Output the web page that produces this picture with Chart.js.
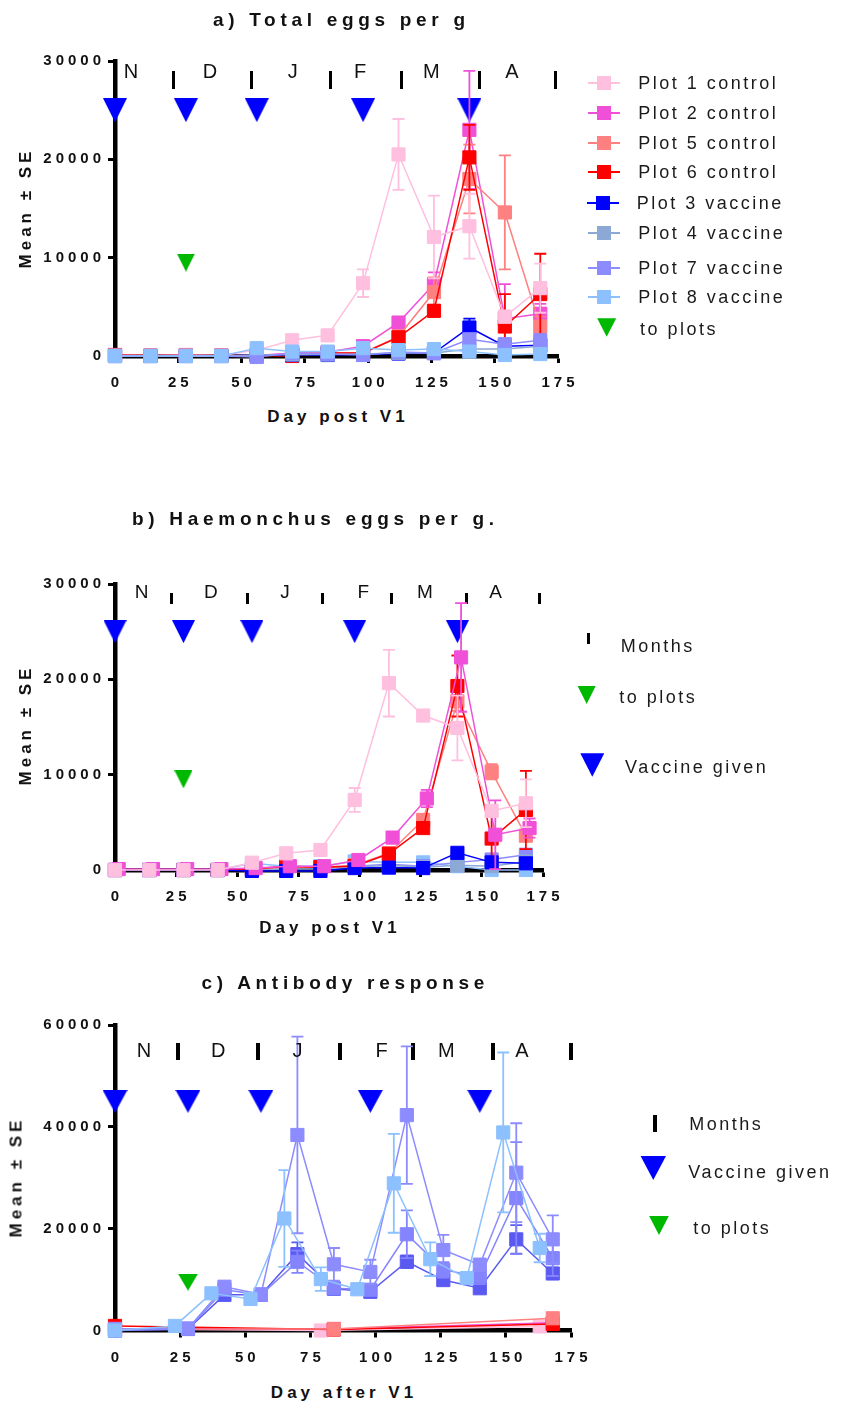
<!DOCTYPE html>
<html>
<head>
<meta charset="utf-8">
<title>Egg counts and antibody response</title>
<script src="https://cdn.jsdelivr.net/npm/chart.js@4.4.1/dist/chart.umd.min.js"></script>
<style>
  html, body { margin: 0; padding: 0; background: #fff; }
  body { width: 843px; height: 1405px; position: relative; overflow: hidden;
         font-family: "Liberation Sans", Arial, sans-serif; color: #111; }
  canvas.panel { position: absolute; left: 0; }
  .t { position: absolute; white-space: nowrap; line-height: 1; }
  .title { font-weight: bold; font-size: 19px; letter-spacing: 4.7px; padding-left: 4.7px;
           transform: translate(-50%, -50%); }
  .xt { font-weight: bold; font-size: 17px; letter-spacing: 4px; padding-left: 4px;
        transform: translate(-50%, -50%); }
  .yt { font-weight: bold; font-size: 17px; letter-spacing: 4px; padding-left: 4px;
        transform: translate(-50%, -50%) rotate(-90deg); }
  .lg { font-size: 18px; letter-spacing: 2.5px; transform: translateY(-50%); color: #1a1a1a; }
  .sw { position: absolute; }
  .tri { position: absolute; clip-path: polygon(0 0, 100% 0, 50% 100%); }
</style>
</head>
<body>

<canvas id="chartA" class="panel" width="843" height="400" style="top:0px"></canvas>
<canvas id="chartB" class="panel" width="843" height="420" style="top:500px"></canvas>
<canvas id="chartC" class="panel" width="843" height="400" style="top:980px"></canvas>

<div class="t title" style="left:339px; top:19px">a) Total eggs per g</div>
<div class="t yt" style="left:25px; top:210px">Mean ± SE</div>
<div class="t xt" style="left:336px; top:416px">Day post V1</div>

<div class="t title" style="left:313px; top:518px">b) Haemonchus eggs per g.</div>
<div class="t yt" style="left:25px; top:727px">Mean ± SE</div>
<div class="t xt" style="left:328px; top:927px">Day post V1</div>

<div class="t title" style="left:343px; top:982px">c) Antibody response</div>
<div class="t yt" style="left:16px; top:1179px">Mean ± SE</div>
<div class="t xt" style="left:342px; top:1392px">Day after V1</div>

<div id="legends"></div>

<script>
// ---------- sampling days ----------
const DAYS = [0, 14, 28, 42, 56, 70, 84, 98, 112, 126, 140, 154, 168];
const DAYS_SHIFTED = [1.5, 15.5, 29.5, 43.5, 57.5, 71.5, 85.5, 99.5, 113.5, 127.5, 141.5, 155.5, 169.5];
const ANTIBODY_DAYS = [0, 28, 42, 56, 70, 84, 98, 112, 126, 140, 154, 168];
const ANTIBODY_DAYS_P8 = [0, 23, 37, 52, 65, 79, 93, 107, 121, 135, 149, 163];
const CONTROL_AB_DAYS = [0, 84, 168];
const CONTROL_AB_DAYS_P1 = [0, 79, 163];

// ---------- a) total eggs per g ----------
const totalP1 = [50, 50, 50, 50, 600, 1600, 2100, 7400, 20500, 12100, 13200, 4000, 6900];
const totalP1se = [0, 0, 0, 0, 100, 200, 300, 1400, 3600, 4200, 3300, 600, 2500];
const totalP2 = [100, 50, 100, 50, 50, 300, 400, 1000, 3400, 7300, 23000, 3800, 4300];
const totalP2se = [0, 0, 0, 0, 0, 100, 100, 200, 500, 1200, 6000, 3500, 1000];
const totalP5 = [100, 50, 100, 50, 50, 200, 300, 300, 2000, 6500, 18000, 14600, 3000];
const totalP5se = [0, 0, 0, 0, 0, 100, 100, 100, 300, 1500, 3500, 5800, 1000];
const totalP6 = [100, 50, 50, 50, 50, 0, 300, 300, 1900, 4600, 20200, 3000, 6300];
const totalP6se = [0, 0, 0, 0, 0, 100, 100, 100, 300, 600, 3300, 3300, 4100];
const totalP3 = [0, 0, 0, 0, 100, 100, 100, 150, 250, 300, 2900, 1000, 1100];
const totalP3se = [0, 0, 0, 0, 0, 0, 0, 0, 0, 100, 900, 200, 300];
const totalP4 = [0, 0, 0, 0, 100, 150, 150, 200, 300, 300, 700, 700, 1000];
const totalP4se = [0, 0, 0, 0, 0, 0, 0, 0, 0, 0, 200, 100, 200];
const totalP7 = [0, 0, 0, 0, -100, 300, 200, 100, 400, 300, 1700, 1200, 1600];
const totalP7se = [0, 0, 0, 0, 0, 0, 0, 0, 0, 0, 300, 200, 300];
const totalP8 = [0, 0, 0, 0, 800, 450, 450, 800, 600, 700, 450, 100, 200];
const totalP8se = [0, 0, 0, 0, 100, 100, 100, 100, 100, 100, 100, 0, 0];

// ---------- b) Haemonchus eggs per g ----------
const haemP1 = [0, 0, 0, 0, 770, 1750, 2100, 7350, 19600, 16200, 14900, 6200, 7000];
const haemP1se = [0, 0, 0, 0, 100, 200, 200, 1250, 3500, 300, 3400, 500, 2500];
const haemP2 = [100, 100, 100, 100, 200, 400, 400, 1050, 3400, 7500, 22300, 3700, 4400];
const haemP2se = [0, 0, 0, 0, 0, 100, 100, 200, 400, 900, 5700, 3600, 1000];
const haemP5 = [0, 0, 0, 0, 100, 300, 300, 500, 1750, 5250, 17700, 10300, 3600];
const haemP5se = [0, 0, 0, 0, 0, 100, 100, 100, 300, 500, 1000, 800, 300];
const haemP6 = [0, 0, 0, 0, 100, 400, 300, 400, 1700, 4400, 19300, 3300, 6300];
const haemP6se = [0, 0, 0, 0, 0, 100, 100, 100, 200, 400, 3200, 3100, 4100];
const haemP3 = [0, 0, 0, 0, -100, -100, -100, 200, 250, 200, 1800, 800, 700];
const haemP3se = [0, 0, 0, 0, 0, 0, 0, 0, 0, 0, 400, 200, 200];
const haemP4 = [0, 0, 0, 0, 0, 100, 100, 300, 500, 300, 500, 400, 900];
const haemP4se = [0, 0, 0, 0, 0, 0, 0, 0, 0, 0, 100, 100, 200];
const haemP7 = [0, 0, 0, 0, 0, 200, 300, 400, 600, 400, 800, 1100, 1600];
const haemP7se = [0, 0, 0, 0, 0, 0, 0, 0, 0, 0, 200, 300, 300];
const haemP8 = [0, 0, 0, 0, 700, 400, 400, 900, 800, 800, 400, 0, 0];
const haemP8se = [0, 0, 0, 0, 100, 100, 100, 100, 100, 100, 100, 0, 0];

// ---------- c) antibody response ----------
const abP3 = [0, 300, 7000, 7000, 15000, 8200, 7600, 13500, 9900, 8300, 17900, 11200];
const abP3se = [0, 0, 500, 500, 2300, 1000, 600, 1200, 700, 800, 2800, 1000];
const abP4 = [0, 300, 8000, 7000, 13500, 8300, 8000, 18900, 11900, 10600, 26000, 14200];
const abP4se = [0, 0, 500, 500, 2200, 1000, 800, 4700, 1500, 1500, 11000, 3500];
const abP7 = [300, 400, 8600, 7100, 38400, 13000, 11500, 42300, 15800, 12900, 31000, 17900];
const abP7se = [0, 0, 600, 600, 19300, 3200, 2400, 13500, 3000, 1200, 9700, 4700];
const abP8 = [0, 900, 7300, 6200, 22000, 10100, 8100, 28900, 14000, 10300, 38900, 16200];
const abP8se = [0, 0, 500, 500, 9500, 2300, 500, 9700, 3300, 800, 15700, 2800];
const abP1 = [300, 0, 800];
const abP2 = [300, 300, 1500];
const abP5 = [300, 300, 2400];
const abP6 = [900, 200, 1300];

// ---------- event markers ----------
const VACCINE_DAYS = [0, 28, 56, 98, 140];
const VACCINE_LEVEL_EGGS = 25000;
const VACCINE_LEVEL_AB = 45000;
const TO_PLOTS_DAYS = [28];
const TO_PLOTS_LEVEL = 9500;

const MONTH_LETTERS = ['N', 'D', 'J', 'F', 'M', 'A'];
const MONTH_MID_A = [6.3, 37.5, 70.2, 96.8, 125, 156.8];
const MONTH_MID_B = [10.9, 39.2, 69.5, 101.5, 126.7, 155.6];
const MONTH_MID_C = [11.1, 39.6, 70, 102.3, 127.2, 156.2];
const MONTH_START_A = [23, 54, 85, 113, 144, 174];
const MONTH_START_B = [23.2, 54.1, 84.9, 113.1, 143.8, 173.4];
const MONTH_START_C = [24, 55, 86.3, 114.2, 145.1, 175];

const SERIES_NAMES = ['Plot 1 control', 'Plot 2 control', 'Plot 5 control', 'Plot 6 control',
                      'Plot 3 vaccine', 'Plot 4 vaccine', 'Plot 7 vaccine', 'Plot 8 vaccine'];

// ---------- styling ----------
const COL = {
  p1: '#FFBFDF', p2: '#F050D8', p5: '#FF8080', p6: '#FF0000',
  p3: '#0000FF', p4: '#8CA8D4', p7: '#8C8CFF', p8: '#8CC0FF',
  abDark: '#5A5AF2', abMid: '#8484FF',
  vaccine: '#0000FF', toPlots: '#00B800'
};
const FONT_FAMILY = "'Liberation Sans', Arial, sans-serif";

function triangleImage(w, h, color) {
  const c = document.createElement('canvas');
  c.width = w; c.height = h;
  const g = c.getContext('2d');
  g.fillStyle = color;
  g.beginPath(); g.moveTo(0, 0); g.lineTo(w, 0); g.lineTo(w / 2, h); g.closePath(); g.fill();
  return c;
}
function barImage(w, h) {
  const c = document.createElement('canvas');
  c.width = w; c.height = h;
  const g = c.getContext('2d');
  g.fillStyle = '#000'; g.fillRect(0, 0, w, h);
  return c;
}

function series(xs, ys, se, color, order) {
  return {
    type: 'scatter', showLine: true,
    data: xs.map((x, i) => ({ x: x, y: ys[i] })),
    se: se,
    borderColor: color, backgroundColor: color, borderWidth: 1.5,
    pointStyle: 'rect', pointRadius: 9.3, pointBorderWidth: 1,
    pointBorderColor: color, pointBackgroundColor: color,
    order: order, clip: false
  };
}
function markers(xs, level, image, order) {
  return {
    type: 'scatter', showLine: false,
    data: xs.map(x => ({ x: x, y: level })),
    pointStyle: image, pointRadius: 12, order: order, clip: false
  };
}

// vertical error bars drawn just before each dataset's own line and squares
const errorBars = {
  id: 'errorBars',
  beforeDatasetDraw(chart, args) {
    const ds = chart.data.datasets[args.index];
    if (!ds.se) return;
    const ctx = chart.ctx, ys = chart.scales.y, xs = chart.scales.x;
    ctx.save();
    ctx.strokeStyle = ds.borderColor;
    ctx.lineWidth = 1.8;
    ds.data.forEach((p, i) => {
      const s = ds.se[i];
      if (!s) return;
      const x = xs.getPixelForValue(p.x);
      const top = ys.getPixelForValue(p.y + s);
      const bot = ys.getPixelForValue(p.y - s);
      ctx.beginPath();
      ctx.moveTo(x, top); ctx.lineTo(x, bot);
      ctx.moveTo(x - 6, top); ctx.lineTo(x + 6, top);
      ctx.moveTo(x - 6, bot); ctx.lineTo(x + 6, bot);
      ctx.stroke();
    });
    ctx.restore();
  }
};

// month initials written across the top of each panel
const monthLabels = {
  id: 'monthLabels',
  afterDatasetsDraw(chart, args, opts) {
    if (!opts || !opts.days) return;
    const ctx = chart.ctx;
    ctx.save();
    ctx.letterSpacing = '0px';
    ctx.font = opts.size + 'px ' + FONT_FAMILY;
    ctx.fillStyle = '#111';
    ctx.textAlign = 'center';
    ctx.textBaseline = 'middle';
    opts.days.forEach((d, i) => {
      ctx.fillText(opts.letters[i], chart.scales.x.getPixelForValue(d), chart.scales.y.getPixelForValue(opts.level));
    });
    ctx.restore();
  }
};

// wide-tracked axis numbers
const trackedTicks = {
  id: 'trackedTicks',
  beforeDraw(chart) { chart.ctx.letterSpacing = '4px'; },
  afterDraw(chart) { chart.ctx.letterSpacing = '0px'; }
};

function axisOptions(min, max, step, fitFn, pad, offset) {
  return {
    type: 'linear', min: min, max: max, afterFit: fitFn,
    ticks: { stepSize: step, autoSkip: false, color: '#111', padding: pad, labelOffset: offset,
             callback: v => String(v),
             font: { family: FONT_FAMILY, size: 15, weight: 'bold' } },
    grid: { drawOnChartArea: false, drawTicks: true, tickLength: 7, tickWidth: 3, tickColor: '#000' },
    border: { display: true, width: 4.5, color: '#000' }
  };
}

function makePanel(id, canvasH, plotTop, plotBottom, plotRight, yMax, yStep, datasets, months) {
  return new Chart(document.getElementById(id), {
    type: 'scatter',
    data: { datasets: datasets },
    options: {
      responsive: false, animation: false, devicePixelRatio: 1,
      layout: { padding: { left: 0, top: plotTop, right: 843 - plotRight, bottom: 0 } },
      plugins: { legend: { display: false }, tooltip: { enabled: false }, monthLabels: months },
      events: [],
      scales: {
        x: axisOptions(0, 175, 25, s => { s.height = canvasH - plotBottom; }, 11, 2),
        y: axisOptions(0, yMax, yStep, s => { s.width = 115; }, 3, 0)
      }
    },
    plugins: [errorBars, monthLabels, trackedTicks]
  });
}

// ---------- panel a ----------
makePanel('chartA', 400, 61, 356, 558, 30000, 10000, [
  markers(MONTH_START_A, 28100, barImage(3, 18), 300),
  markers(VACCINE_DAYS, VACCINE_LEVEL_EGGS, triangleImage(24, 24, COL.vaccine), 300),
  markers(TO_PLOTS_DAYS, TO_PLOTS_LEVEL, triangleImage(18, 18, COL.toPlots), 300),
  series(DAYS, totalP2, totalP2se, COL.p2, 108),
  series(DAYS, totalP5, totalP5se, COL.p5, 107),
  series(DAYS, totalP6, totalP6se, COL.p6, 106),
  series(DAYS, totalP1, totalP1se, COL.p1, 105),
  series(DAYS, totalP3, totalP3se, COL.p3, 104),
  series(DAYS, totalP4, totalP4se, COL.p4, 103),
  series(DAYS, totalP7, totalP7se, COL.p7, 102),
  series(DAYS, totalP8, totalP8se, COL.p8, 101)
], { days: MONTH_MID_A, letters: MONTH_LETTERS, level: 28800, size: 20 });

// ---------- panel b ----------
makePanel('chartB', 420, 84, 370, 543, 30000, 10000, [
  markers(MONTH_START_B, 28500, barImage(3, 11), 300),
  markers(VACCINE_DAYS, VACCINE_LEVEL_EGGS, triangleImage(23, 23, COL.vaccine), 300),
  markers(TO_PLOTS_DAYS, TO_PLOTS_LEVEL, triangleImage(18, 18, COL.toPlots), 300),
  series(DAYS, haemP8, haemP8se, COL.p8, 110),
  series(DAYS, haemP7, haemP7se, COL.p7, 109),
  series(DAYS, haemP4, haemP4se, COL.p4, 108),
  series(DAYS, haemP5, haemP5se, COL.p5, 107),
  series(DAYS, haemP6, haemP6se, COL.p6, 106),
  series(DAYS, haemP3, haemP3se, COL.p3, 105),
  series(DAYS_SHIFTED, haemP2, haemP2se, COL.p2, 104),
  series(DAYS, haemP1, haemP1se, COL.p1, 103)
], { days: MONTH_MID_B, letters: MONTH_LETTERS, level: 29100, size: 19 });

// ---------- panel c ----------
makePanel('chartC', 400, 45, 350.5, 571, 60000, 20000, [
  markers(MONTH_START_C, 54800, barImage(4, 17), 300),
  markers(VACCINE_DAYS, VACCINE_LEVEL_AB, triangleImage(25, 23, COL.vaccine), 300),
  markers(TO_PLOTS_DAYS, TO_PLOTS_LEVEL, triangleImage(20, 17, COL.toPlots), 300),
  series(CONTROL_AB_DAYS_P1, abP1, null, COL.p1, 112),
  series(CONTROL_AB_DAYS, abP2, null, COL.p2, 111),
  series(CONTROL_AB_DAYS, abP6, null, COL.p6, 110),
  series(CONTROL_AB_DAYS, abP5, null, COL.p5, 109),
  series(ANTIBODY_DAYS, abP3, abP3se, COL.abDark, 104),
  series(ANTIBODY_DAYS, abP4, abP4se, COL.abMid, 103),
  series(ANTIBODY_DAYS, abP7, abP7se, COL.p7, 102),
  series(ANTIBODY_DAYS_P8, abP8, abP8se, COL.p8, 101)
], { days: MONTH_MID_C, letters: MONTH_LETTERS, level: 54800, size: 20 });

// ---------- legends ----------
const host = document.getElementById('legends');
function el(cls, style, text) {
  const d = document.createElement('div');
  d.className = cls;
  Object.assign(d.style, style);
  if (text) d.textContent = text;
  host.appendChild(d);
  return d;
}
function seriesKey(x0, y, color, label, textX) {
  el('sw', { left: x0 + 'px', top: (y - 1) + 'px', width: '32px', height: '2px', background: color });
  el('sw', { left: (x0 + 9) + 'px', top: (y - 7) + 'px', width: '14px', height: '14px', background: color });
  el('t lg', { left: textX + 'px', top: y + 'px' }, label);
}
function triKey(cx, cy, w, h, color, label, textX, textY) {
  el('tri', { left: (cx - w / 2) + 'px', top: (cy - h / 2) + 'px', width: w + 'px', height: h + 'px', background: color });
  el('t lg', { left: textX + 'px', top: textY + 'px' }, label);
}
function barKey(cx, cy, w, h, label, textX, textY) {
  el('sw', { left: (cx - w / 2) + 'px', top: (cy - h / 2) + 'px', width: w + 'px', height: h + 'px', background: '#000' });
  el('t lg', { left: textX + 'px', top: textY + 'px' }, label);
}

const LEGEND_A_Y = [82.7, 113.3, 142.7, 171.7, 202.7, 232.7, 268.3, 296.7];
const LEGEND_A_COLOURS = [COL.p1, COL.p2, COL.p5, COL.p6, COL.p3, COL.p4, COL.p7, COL.p8];
SERIES_NAMES.forEach((name, i) => {
  seriesKey(i === 4 ? 587 : 588, LEGEND_A_Y[i], LEGEND_A_COLOURS[i], name, i === 4 ? 636.7 : 638.3);
});
triKey(606.7, 327.5, 19, 18.5, COL.toPlots, 'to plots', 640, 329.3);

barKey(588.3, 638.5, 3, 11, 'Months', 620.7, 646);
triKey(586.7, 695, 18, 18, COL.toPlots, 'to plots', 619.3, 697.3);
triKey(592.3, 765, 24, 23.4, COL.vaccine, 'Vaccine given', 625, 767.3);

barKey(655, 1123.3, 4, 17, 'Months', 689.3, 1124.3);
triKey(653.3, 1167.8, 25.7, 24.3, COL.vaccine, 'Vaccine given', 688.3, 1171.7);
triKey(659, 1225.5, 19.7, 19, COL.toPlots, 'to plots', 693.3, 1227.7);
</script>
</body>
</html>
